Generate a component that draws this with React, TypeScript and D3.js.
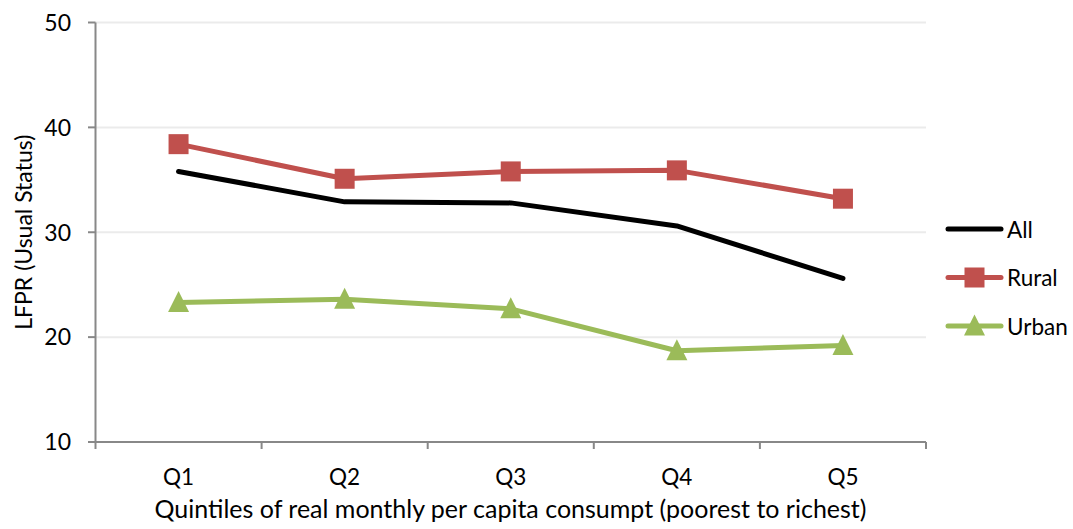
import React from "react";
import * as d3 from "d3";

const categories = ["Q1", "Q2", "Q3", "Q4", "Q5"];
const allValues = [35.8, 32.9, 32.8, 30.6, 25.6];
const ruralValues = [38.4, 35.1, 35.8, 35.9, 33.2];
const urbanValues = [23.3, 23.6, 22.7, 18.7, 19.2];
const yTicks = [10, 20, 30, 40, 50];
const seriesNames = ["All", "Rural", "Urban"];

const W = 1073;
const H = 529;
const FONT = "Lato, 'Open Sans', sans-serif";

export default function App() {
  const x = d3.scaleBand<string>().domain(categories).range([95.5, 926]);
  const y = d3.scaleLinear().domain([10, 50]).range([442, 22.5]);
  const cx = (c: string) => (x(c) as number) + x.bandwidth() / 2;
  const line = d3
    .line<number>()
    .x((_, i) => cx(categories[i]))
    .y((d) => y(d));

  const series = [
    { name: seriesNames[0], values: allValues, color: "#000000", marker: "none" },
    { name: seriesNames[1], values: ruralValues, color: "#C0504D", marker: "square" },
    { name: seriesNames[2], values: urbanValues, color: "#9BBB59", marker: "triangle" },
  ];

  const sq = 20;
  const tri = (px: number, py: number, s: number) =>
    `M${px},${py - s * 0.55} L${px + s / 2},${py + s * 0.45} L${px - s / 2},${py + s * 0.45} Z`;

  const drawMarker = (m: string, color: string, px: number, py: number, key: string) => {
    if (m === "square")
      return <rect key={key} x={px - sq / 2} y={py - sq / 2} width={sq} height={sq} fill={color} />;
    if (m === "triangle") return <path key={key} d={tri(px, py, 21)} fill={color} />;
    return null;
  };

  const legendY = [229, 277.5, 326];

  return (
    <svg width={W} height={H} style={{ position: "absolute", left: 0, top: 0 }} fontFamily={FONT}>
      <rect width={W} height={H} fill="#fff" />
      {/* gridlines */}
      {yTicks.slice(1).map((t) => (
        <line key={t} x1={95.5} x2={926} y1={y(t)} y2={y(t)} stroke="#ebebeb" strokeWidth={2} />
      ))}
      {/* y axis */}
      <line x1={95.5} x2={95.5} y1={y(50)} y2={y(10)} stroke="#888" strokeWidth={2} />
      {yTicks.map((t) => (
        <g key={t}>
          <line x1={88} x2={95.5} y1={y(t)} y2={y(t)} stroke="#888" strokeWidth={2} />
          <text x={71} y={y(t) + 8.3} textAnchor="end" fontSize={23} fill="#000">
            {t}
          </text>
        </g>
      ))}
      {/* x axis */}
      <line x1={95.5} x2={926} y1={y(10)} y2={y(10)} stroke="#888" strokeWidth={2} />
      {[...categories.map((c) => x(c) as number), 926].map((px, i) => (
        <line key={i} x1={px} x2={px} y1={y(10)} y2={y(10) + 7} stroke="#888" strokeWidth={2} />
      ))}
      {categories.map((c) => (
        <text key={c} x={cx(c)} y={485} textAnchor="middle" fontSize={22.5} fill="#000">
          {c}
        </text>
      ))}
      <text x={510.5} y={518} textAnchor="middle" fontSize={25} fill="#000">
        Quintiles of real monthly per capita consumpt (poorest to richest)
      </text>
      <text
        transform={`translate(31.5,${(y(10) + y(50)) / 2}) rotate(-90)`}
        textAnchor="middle"
        fontSize={23}
        fill="#000"
      >
        LFPR (Usual Status)
      </text>
      {/* series */}
      {series.map((s) => (
        <g key={s.name}>
          <path
            d={line(s.values) as string}
            fill="none"
            stroke={s.color}
            strokeWidth={5}
            strokeLinejoin="round"
            strokeLinecap="round"
          />
          {s.values.map((v, i) => drawMarker(s.marker, s.color, cx(categories[i]), y(v), s.name + i))}
        </g>
      ))}
      {/* legend */}
      {series.map((s, i) => (
        <g key={s.name}>
          <line
            x1={948}
            x2={1001}
            y1={legendY[i]}
            y2={legendY[i]}
            stroke={s.color}
            strokeWidth={5}
            strokeLinecap="round"
          />
          {drawMarker(s.marker, s.color, 974.5, legendY[i], "lg" + i)}
          <text x={1007} y={legendY[i] + 8.5} fontSize={22.5} fill="#000">
            {s.name}
          </text>
        </g>
      ))}
    </svg>
  );
}
